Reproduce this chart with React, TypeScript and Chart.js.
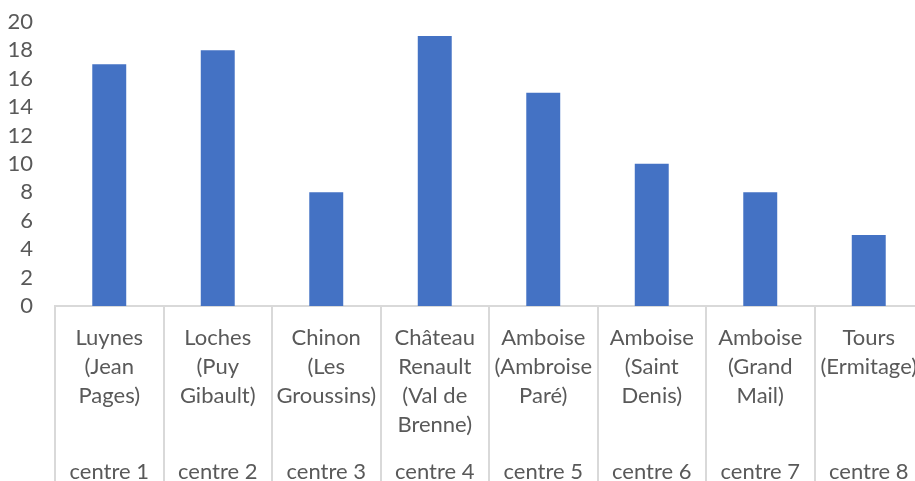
import React, { useEffect, useRef } from "react";
import { Chart, registerables } from "chart.js";

Chart.register(...registerables);

const siteLabels: string[][] = [
  ["Luynes", "(Jean", "Pages)"],
  ["Loches", "(Puy", "Gibault)"],
  ["Chinon", "(Les", "Groussins)"],
  ["Château", "Renault", "(Val de", "Brenne)"],
  ["Amboise", "(Ambroise", "Paré)"],
  ["Amboise", "(Saint", "Denis)"],
  ["Amboise", "(Grand", "Mail)"],
  ["Tours", "(Ermitage)"],
];
const centreLabels: string[] = [
  "centre 1",
  "centre 2",
  "centre 3",
  "centre 4",
  "centre 5",
  "centre 6",
  "centre 7",
  "centre 8",
];
const values: number[] = [17, 18, 8, 19, 15, 10, 8, 5];

const TEXT = "#595959";
const LINE = "#d9d9d9";
const FONT = { family: "Lato, 'Open Sans', sans-serif", size: 22, lineHeight: 29 / 22 };

export default function App() {
  const ref = useRef<HTMLCanvasElement | null>(null);

  useEffect(() => {
    if (!ref.current) return;
    const chart = new Chart(ref.current, {
      type: "bar",
      data: {
        labels: siteLabels,
        datasets: [
          {
            data: values,
            backgroundColor: "#4472C4",
            borderWidth: 0,
            barPercentage: 0.313,
            categoryPercentage: 1,
            xAxisID: "x",
            yAxisID: "y",
          },
        ],
      },
      options: {
        animation: false,
        responsive: false,
        maintainAspectRatio: false,
        layout: { padding: { top: 21.7, right: 1, bottom: 0, left: 0 } },
        plugins: { legend: { display: false }, tooltip: { enabled: false } },
        scales: {
          y: {
            min: 0,
            max: 20,
            ticks: { stepSize: 2, autoSkip: false, color: TEXT, font: FONT, padding: 22 },
            grid: { display: false, drawTicks: false },
            border: { display: false },
            afterFit: (s: any) => {
              s.width = 55;
              s.paddingTop = 0;
              s.paddingBottom = 0;
            },
          },
          x: {
            type: "category",
            position: "bottom",
            weight: 0,
            offset: true,
            grid: {
              offset: true,
              drawOnChartArea: false,
              drawTicks: true,
              tickLength: 133,
              color: LINE,
              lineWidth: 2,
            },
            border: { display: true, color: LINE, width: 2 },
            ticks: {
              color: TEXT,
              font: FONT,
              padding: 17.5 - 133,
              autoSkip: false,
              maxRotation: 0,
              minRotation: 0,
            },
            afterFit: (s: any) => {
              s.height = 133;
            },
          },
          x2: {
            type: "category",
            position: "bottom",
            weight: 1,
            labels: centreLabels,
            offset: true,
            grid: {
              offset: true,
              drawOnChartArea: false,
              drawTicks: true,
              tickLength: 51,
              color: LINE,
              lineWidth: 2,
            },
            border: { display: false },
            ticks: {
              color: TEXT,
              font: FONT,
              padding: 18.5 - 51,
              autoSkip: false,
              maxRotation: 0,
              minRotation: 0,
            },
            afterFit: (s: any) => {
              s.height = 51;
            },
          },
        },
      },
    } as any);
    return () => chart.destroy();
  }, []);

  return (
    <div
      style={{
        position: "fixed",
        left: 0,
        top: 0,
        width: 915,
        height: 481,
        overflow: "hidden",
        background: "#ffffff",
      }}
    >
      <canvas ref={ref} width={924} height={490} style={{ display: "block" }} />
    </div>
  );
}
